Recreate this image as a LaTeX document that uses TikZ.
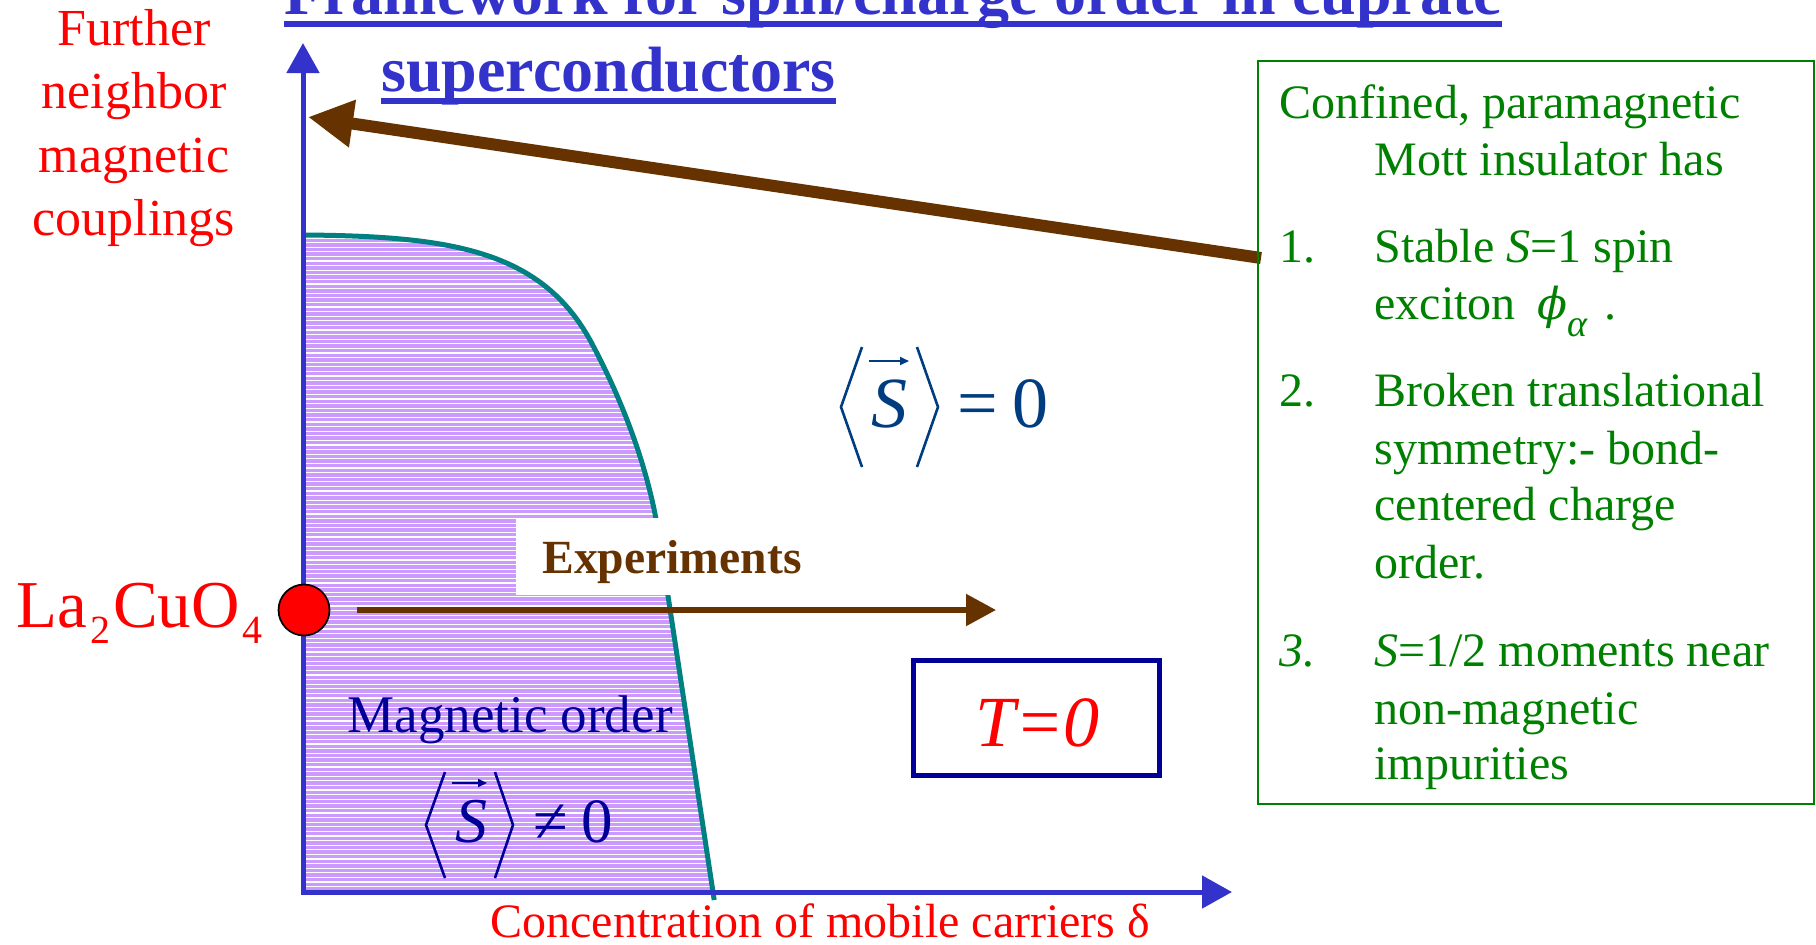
\documentclass[tikz,border=0pt]{standalone}
\usepackage{fontspec}
\setmainfont{Liberation Serif}
\newfontfamily\dvserif{DejaVu Serif}
\usetikzlibrary{arrows.meta}
\definecolor{titleblue}{HTML}{3333CC}
\definecolor{redc}{HTML}{FF0000}
\definecolor{brownc}{HTML}{663300}
\definecolor{tealc}{HTML}{008080}
\definecolor{purplec}{HTML}{CC99FF}
\definecolor{navyc}{HTML}{000099}
\definecolor{sblue}{HTML}{003D80}
\definecolor{greenc}{HTML}{008000}
\newcommand{\myfs}[1]{\fontsize{#1}{#1}\selectfont}
\begin{document}
\begin{tikzpicture}[x=0.5pt,y=-0.5pt,
  txt/.style={inner sep=0pt, anchor=base west},
  ctxt/.style={inner sep=0pt, anchor=base},
  axisline/.style={draw=titleblue, line width=2.5pt, {Triangle[length=15pt,width=16pt]}-{Triangle[length=15pt,width=16pt]}},
  bigarrow/.style={draw=brownc, line width=6pt, -{Triangle[length=22.5pt,width=22.5pt]}},
  exparrow/.style={draw=brownc, line width=2.65pt, -{Triangle[length=15pt,width=15.5pt]}},
  bracket/.style={line width=1.3pt, line join=miter},
  vecarrow/.style={line width=1pt, -{Triangle[length=4.5pt,width=4pt]}},
  titletext/.style={txt, text=titleblue, font=\myfs{32pt}\bfseries},
  lefttext/.style={ctxt, text=redc, font=\myfs{26pt}},
  boxtext/.style={txt, text=greenc, font=\myfs{24pt}},
]
\useasboundingbox (0,0) rectangle (1816,944);
\fill[white] (0,0) rectangle (1816,944);

% magnetic ordered region
\fill[purplec] (303,235) .. controls (450,236) and (540,250) .. (590,340) .. controls (625,405) and (648,470) .. (658,530) -- (713,892) -- (303,892) -- cycle;
\begin{scope}
  \clip (303,235) .. controls (450,236) and (540,250) .. (590,340) .. controls (625,405) and (648,470) .. (658,530) -- (713,892) -- (303,892) -- cycle;
  \foreach \yy in {238,242.6,...,895} {
    \draw[white, line width=0.6pt] (300,\yy) -- (720,\yy);
  }
\end{scope}
\draw[tealc, line width=2.5pt] (303,235) .. controls (450,236) and (540,250) .. (590,340) .. controls (625,405) and (648,470) .. (658,530) -- (714.2,900);

% Experiments label
\node[fill=white, inner sep=0pt, minimum width=149.5pt, minimum height=38.5pt, anchor=north west] (expbox) at (516,518) {};
\node[txt, text=brownc, font=\myfs{23.8pt}\bfseries] (exptext) at (542,573) {Experiments};

% axes
\coordinate (ytip) at (303,43);
\coordinate (origin) at (303,892);
\coordinate (xtip) at (1232,892);
\draw[axisline] (ytip) -- (origin) -- (xtip);

% big brown arrow from box to axis
\coordinate (boxpt) at (1261,258);
\coordinate (ytarget) at (308,117);
\draw[bigarrow] (boxpt) -- (ytarget);

% La2CuO4 point
\node[circle, fill=redc, draw=black, line width=0.85pt, minimum size=25.5pt, inner sep=0pt] (dot) at (304,610) {};
\coordinate (expend) at (996,610);
\draw[exparrow, shorten <=13.5pt] (dot.east) -- (expend);
\node[anchor=base east, inner sep=0pt, text=redc] (lco) at (263,627) {\myfs{33.5pt}La\hspace{1.5pt}\raisebox{-8pt}{\myfs{20pt}2}\hspace{1.5pt}CuO\hspace{1.5pt}\raisebox{-8pt}{\myfs{20pt}4}};

% title
\node[titletext] (title1) at (284,14) {Framework for spin/charge order in cuprate};
\node[titletext] (title2) at (381,91) {superconductors};
\draw[titleblue, line width=3pt] ([yshift=-5pt]title1.base west) -- ([yshift=-5pt]title1.base east);
\draw[titleblue, line width=3pt] ([yshift=-5pt]title2.base west) -- ([yshift=-5pt]title2.base east);

% left axis label
\node[lefttext] (fl1) at (134,45) {Further};
\node[lefttext] (fl2) at (134,108) {neighbor};
\node[lefttext] (fl3) at (134,172) {magnetic};
\node[lefttext] (fl4) at (134,235) {couplings};

% bottom axis label
\node[txt, text=redc, font=\myfs{24pt}] (xlab) at (490,937) {Concentration of mobile carriers δ};

% <S> = 0
\draw[bracket, sblue] (862,347) -- (841,407) -- (862,467);
\draw[bracket, sblue] (917,347) -- (938,407) -- (917,467);
\node[ctxt, text=sblue, font=\myfs{36pt}\itshape] (s1) at (889,427) {S};
\draw[vecarrow, sblue] (869,361) -- (909,361);
\node[ctxt, text=sblue, font=\myfs{36pt}] (eq1) at (977.5,427) {=};
\node[ctxt, text=sblue, font=\myfs{36pt}] (z1) at (1030.5,427) {0};

% Magnetic order, <S> != 0
\node[txt, text=navyc, font=\myfs{26.5pt}] (magord) at (347,732) {Magnetic order};
\draw[bracket, navyc] (445,772) -- (426,825) -- (445,878);
\draw[bracket, navyc] (495,772) -- (513,825) -- (495,878);
\node[ctxt, text=navyc, font=\myfs{32pt}\itshape] (s2) at (471,842) {S};
\draw[vecarrow, navyc] (452,783) -- (487,783);
\node[ctxt, text=navyc, font=\myfs{31.5pt}] (neq) at (550.5,842) {≠};
\node[ctxt, text=navyc, font=\myfs{31.5pt}] (z2) at (597.5,842) {0};

% T=0 box
\node[draw=navyc, line width=2.5pt, minimum width=123pt, minimum height=57.5pt, inner sep=0pt] (tbox) at (1036.5,718) {};
\node[ctxt, text=redc, font=\myfs{36pt}\itshape] (tzero) at (1037.5,746) {T=0};

% info box
\node[draw=greenc, line width=1pt, minimum width=278pt, minimum height=371.5pt, inner sep=0pt, anchor=north west] (infobox) at (1257,60) {};
\node[boxtext] (b1) at (1279,118) {Confined, paramagnetic};
\node[boxtext] (b2) at (1374,175) {Mott insulator has};
\node[boxtext] (n1) at (1279,262) {1.};
\node[boxtext] (b3) at (1374,262) {Stable \textit{S}=1 spin};
\node[boxtext] (b4) at (1374,319) {exciton\hspace{11pt}{\dvserif\itshape\myfs{22pt}ϕ}\raisebox{-8.5pt}{\myfs{19pt}\textit{α}}\hspace{8pt}.};
\node[boxtext] (n2) at (1279,406) {2.};
\node[boxtext] (b5) at (1374,406) {Broken translational};
\node[boxtext] (b6) at (1374,464) {symmetry:- bond-};
\node[boxtext] (b7) at (1374,520) {centered charge};
\node[boxtext] (b8) at (1374,578) {order.};
\node[boxtext] (n3) at (1279,666) {\textit{3.}};
\node[boxtext] (b9) at (1374,666) {\textit{S}=1/2 moments near};
\node[boxtext] (b10) at (1374,724) {non-magnetic};
\node[boxtext] (b11) at (1374,779) {impurities};
\end{tikzpicture}
\end{document}
